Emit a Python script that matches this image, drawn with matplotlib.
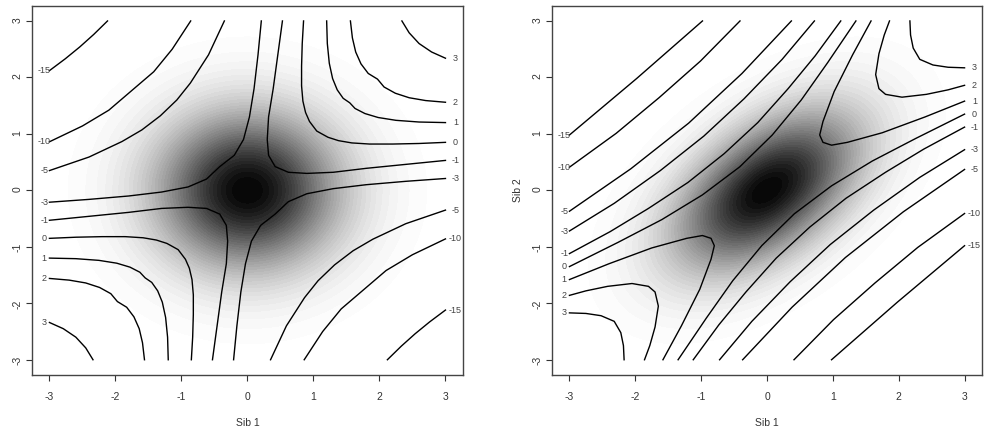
import numpy as np
import matplotlib.pyplot as plt

plt.rcParams['font.family'] = ['Liberation Sans', 'DejaVu Sans']
plt.rcParams['axes.unicode_minus'] = False

# correlation of the sib pair density used for the grey shading
rho_left = 0.0
rho_right = 0.5

# contour labels (one branch per level in the upper half of each panel,
# the lower half is the point reflection (x, y) -> (-x, -y))
levels = ['-15', '-10', '-5', '-3', '-1', '0', '1', '2', '3']

left_x = [
    [-3.0, -2.76, -2.54, -2.33, -2.12],
    [-3.0, -2.5, -2.1, -1.76, -1.42, -1.14, -0.86],
    [-3.0, -2.4, -1.9, -1.6, -1.32, -1.07, -0.865, -0.59, -0.35],
    [-3.0, -2.4, -1.8, -1.3, -0.9, -0.62, -0.42, -0.2, -0.06, 0.03, 0.1, 0.16, 0.21],
    [0.53, 0.46, 0.39, 0.32, 0.30, 0.32, 0.42, 0.62, 0.9, 1.3, 1.8, 2.4, 3.0],
    [0.85, 0.83, 0.82, 0.82, 0.84, 0.88, 0.94, 1.05, 1.22, 1.38, 1.58, 1.85, 2.2, 2.6, 3.0],
    [1.2, 1.21, 1.24, 1.29, 1.36, 1.45, 1.55, 1.63, 1.78, 1.98, 2.25, 2.6, 3.0],
    [1.56, 1.59, 1.64, 1.72, 1.83, 1.97, 2.07, 2.24, 2.45, 2.7, 3.0],
    [2.34, 2.45, 2.6, 2.79, 3.0],
]
left_y = [
    [2.12, 2.33, 2.54, 2.76, 3.0],
    [0.86, 1.14, 1.42, 1.76, 2.1, 2.5, 3.0],
    [0.35, 0.59, 0.865, 1.07, 1.32, 1.6, 1.9, 2.4, 3.0],
    [-0.21, -0.16, -0.10, -0.03, 0.06, 0.2, 0.42, 0.62, 0.9, 1.3, 1.8, 2.4, 3.0],
    [3.0, 2.4, 1.8, 1.3, 0.9, 0.62, 0.42, 0.32, 0.30, 0.32, 0.39, 0.46, 0.53],
    [3.0, 2.6, 2.2, 1.85, 1.58, 1.38, 1.22, 1.05, 0.94, 0.88, 0.84, 0.82, 0.82, 0.83, 0.85],
    [3.0, 2.6, 2.25, 1.98, 1.78, 1.63, 1.55, 1.45, 1.36, 1.29, 1.24, 1.21, 1.2],
    [3.0, 2.7, 2.45, 2.24, 2.07, 1.97, 1.83, 1.72, 1.64, 1.59, 1.56],
    [3.0, 2.79, 2.6, 2.45, 2.34],
]

right_x = [
    [-3.0, -1.98, -0.98],
    [-3.0, -2.29, -1.64, -1.01, -0.41],
    [-3.0, -2.07, -1.19, -0.38, 0.37],
    [-3.0, -2.32, -1.62, -0.96, -0.35, 0.23, 0.72],
    [-3.0, -2.38, -1.80, -1.20, -0.65, -0.14, 0.32, 0.73, 1.12],
    [-3.0, -2.26, -1.60, -0.98, -0.415, 0.08, 0.52, 0.92, 1.35],
    [1.58, 1.30, 1.02, 0.85, 0.80, 0.85, 0.98, 1.22, 1.75, 2.40, 3.0],
    [1.86, 1.78, 1.70, 1.65, 1.70, 1.75, 1.80, 2.05, 2.42, 2.75, 3.0],
    [2.17, 2.18, 2.22, 2.32, 2.52, 2.75, 3.0],
]
right_y = [
    [0.98, 1.98, 3.0],
    [0.41, 1.01, 1.64, 2.29, 3.0],
    [-0.37, 0.38, 1.19, 2.07, 3.0],
    [-0.72, -0.23, 0.35, 0.96, 1.62, 2.32, 3.0],
    [-1.12, -0.73, -0.32, 0.14, 0.65, 1.20, 1.80, 2.38, 3.0],
    [-1.35, -0.92, -0.52, -0.08, 0.415, 0.98, 1.60, 2.26, 3.0],
    [3.0, 2.40, 1.75, 1.22, 0.98, 0.85, 0.80, 0.85, 1.02, 1.30, 1.58],
    [3.0, 2.75, 2.42, 2.05, 1.80, 1.75, 1.70, 1.65, 1.70, 1.78, 1.86],
    [3.0, 2.75, 2.52, 2.32, 2.22, 2.18, 2.17],
]


def draw_panel(ax, xs, ys, rho):
    g = np.linspace(-3.3, 3.3, 500)
    X, Y = np.meshgrid(g, g)
    Z = np.exp(-(X**2 - 2 * rho * X * Y + Y**2) / (2 * (1 - rho**2)))
    steps = np.linspace(0, 1, 41)
    greys = [str(1 - s**1.2) for s in steps[:-1]]
    ax.contourf(X, Y, Z, levels=steps, colors=greys)

    for lab, x, y in zip(levels, xs, ys):
        for s in (1, -1):
            px = s * np.array(x)
            py = s * np.array(y)
            ax.plot(px, py, color='black', lw=1.0, solid_joinstyle='round')
            if abs(px[0]) > 2.9:
                ex, ey = px[0], py[0]
            else:
                ex, ey = px[-1], py[-1]
            tx = -3.08 if ex < 0 else 3.15
            ax.text(tx, ey, lab, ha='center', va='center', fontsize=6.5,
                    color='#444444', clip_on=False)

    ax.set_xlim(-3.26, 3.26)
    ax.set_ylim(-3.27, 3.27)
    ax.set_xticks(range(-3, 4))
    ax.set_yticks(range(-3, 4))
    ax.tick_params(axis='both', labelsize=7.5, length=4, width=0.8,
                   color='#333333', labelcolor='#333333')
    ax.tick_params(axis='x', pad=8)
    ax.tick_params(axis='y', pad=3, labelrotation=90)
    for sp in ax.spines.values():
        sp.set_linewidth(1.0)
        sp.set_color('#444444')
    ax.text(0.5, -0.13, 'Sib 1', transform=ax.transAxes, ha='center',
            va='center', fontsize=7.5, color='#333333')
    ax.text(-0.079, 0.5, 'Sib 2', transform=ax.transAxes, ha='center',
            va='center', rotation=90, fontsize=7.5, color='#333333')


fig = plt.figure(figsize=(9.9, 4.42), dpi=100)
ax1 = fig.add_axes([0.0326, 0.1516, 0.4347, 0.8355])
ax2 = fig.add_axes([0.5579, 0.1516, 0.4337, 0.8355])

draw_panel(ax1, left_x, left_y, rho_left)
draw_panel(ax2, right_x, right_y, rho_right)

fig.savefig('out.png', dpi=100)
